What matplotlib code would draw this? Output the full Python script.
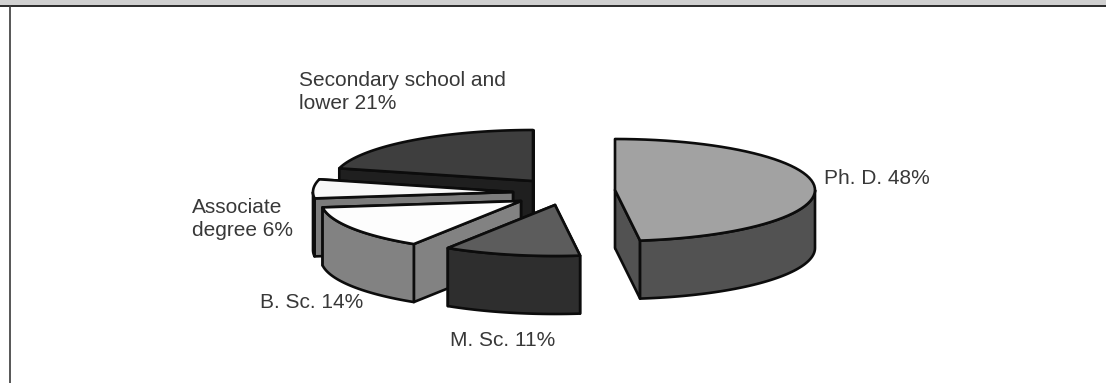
import numpy as np
import matplotlib
matplotlib.use("Agg")
import matplotlib.pyplot as plt
from matplotlib.patches import Polygon, Rectangle

# Highest qualification, share of respondents (%), clockwise from 12 o'clock
categories = ["Ph. D.", "M. Sc.", "B. Sc.", "Associate\ndegree", "Secondary school and\nlower"]
shares = [48, 11, 14, 6, 21]

top_colors = ["#a2a2a2", "#5c5c5c", "#fdfdfd", "#f8f8f8", "#3e3e3e"]
side_colors = ["#525252", "#2e2e2e", "#828282", "#7c7c7c", "#1f1f1f"]

# Each slice is pulled out of the pie, so each has its own apex
apexes = [(615, 190), (555, 205), (521, 201), (513, 192), (533, 181)]
# Left end and vertical centre of every label block
label_pos = [(824, 178), (450, 340), (260, 302), (192, 219), (299, 92)]

RX, RY = 200, 51
DEPTH = 58
EDGE = "#0c0c0c"
LW = 1.9
TEXT = "#383838"


def rim(cx, cy, a0, a1, n=60):
    t = np.radians(np.linspace(a0, a1, n))
    return np.column_stack([cx + RX * np.sin(t), cy - RY * np.cos(t)])


def face(ax, pts, color):
    ax.add_patch(Polygon(pts, closed=True, facecolor=color, edgecolor=EDGE,
                         linewidth=LW, joinstyle="round"))


def radial_face(ax, cx, cy, angle, color):
    t = np.radians(angle)
    ex, ey = cx + RX * np.sin(t), cy - RY * np.cos(t)
    face(ax, [(cx, cy), (ex, ey), (ex, ey + DEPTH), (cx, cy + DEPTH)], color)


def draw_slice(ax, cx, cy, a0, a1, top, side):
    start_seen = np.sin(np.radians(a0)) < 0
    end_seen = np.sin(np.radians(a1)) > 0
    # hidden walls first, the others paint over them
    if not start_seen:
        radial_face(ax, cx, cy, a0, side)
    if not end_seen:
        radial_face(ax, cx, cy, a1, side)
    if start_seen:
        radial_face(ax, cx, cy, a0, side)
    if end_seen:
        radial_face(ax, cx, cy, a1, side)
    lo, hi = max(a0, 90), min(a1, 270)
    if lo < hi:
        arc = rim(cx, cy, lo, hi)
        face(ax, np.vstack([arc, (arc + [0, DEPTH])[::-1]]), side)
    face(ax, np.vstack([[(cx, cy)], rim(cx, cy, a0, a1)]), top)


fig = plt.figure(figsize=(11.06, 3.83), dpi=100)
ax = fig.add_axes([0, 0, 1, 1])
ax.set_xlim(0, 1106)
ax.set_ylim(383, 0)
ax.axis("off")

# Panel header band and left rule
ax.add_patch(Rectangle((0, 0), 1106, 6, facecolor="#d0d0d0", edgecolor="none"))
ax.plot([0, 1106], [6, 6], color="#2a2a2a", lw=1.4)
ax.plot([9.5, 9.5], [6, 383], color="#3a3a3a", lw=1.2)

edges = np.concatenate([[0], np.cumsum(shares)]) * 3.6
# Painted back to front
for i in [4, 3, 2, 1, 0]:
    cx, cy = apexes[i]
    draw_slice(ax, cx, cy, edges[i], edges[i + 1], top_colors[i], side_colors[i])

for name, share, (x, y) in zip(categories, shares, label_pos):
    ax.text(x, y, f"{name} {share}%", ha="left", va="center", fontsize=15,
            family="Liberation Sans", color=TEXT, linespacing=1.28)

fig.savefig("out.png", dpi=100, facecolor="white")
